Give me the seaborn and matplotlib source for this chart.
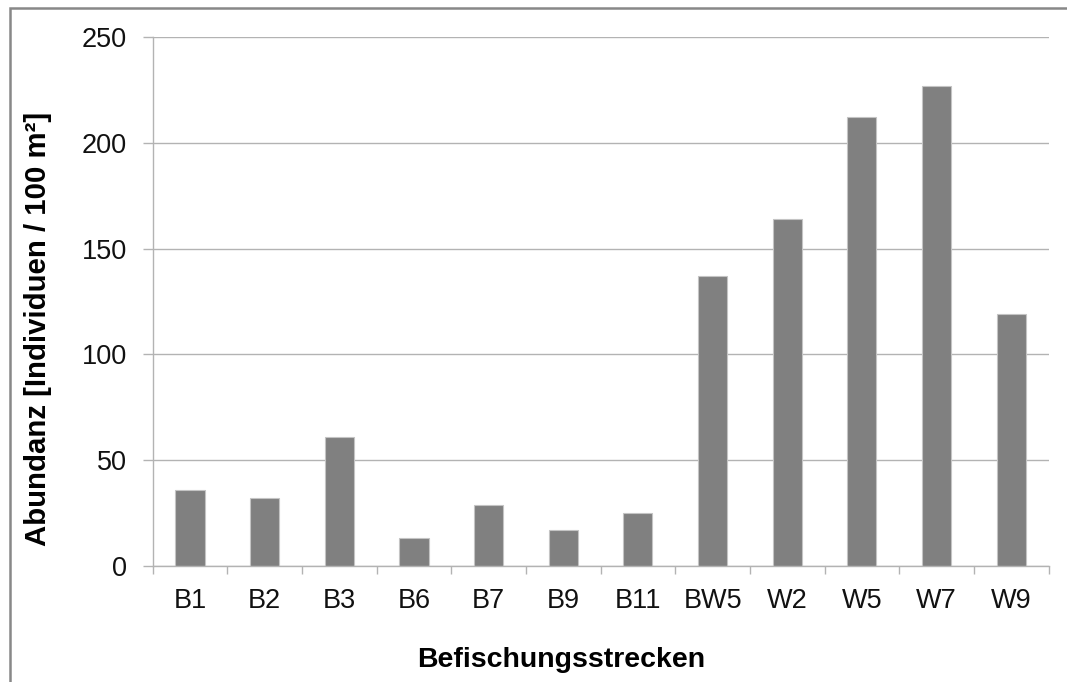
import matplotlib
matplotlib.use("Agg")
import matplotlib.pyplot as plt
from matplotlib.patches import Rectangle
from matplotlib.ticker import FixedLocator
import seaborn as sns
import pandas as pd

# Abundance per sampling stretch (individuals per 100 m²)
stretches = ["B1", "B2", "B3", "B6", "B7", "B9", "B11", "BW5", "W2", "W5", "W7", "W9"]
abundance = [36, 32, 61, 13, 29, 17, 25, 137, 164, 212, 227, 119]
y_ticks = [0, 50, 100, 150, 200, 250]

x_title = "Befischungsstrecken"
y_title = "Abundanz [Individuen / 100 m²]"

df = pd.DataFrame({"Strecke": stretches, "Abundanz": abundance})

sns.set_theme(style="white")
plt.rcParams["font.family"] = ["Liberation Sans", "DejaVu Sans"]

W, H = 1067, 682
fig = plt.figure(figsize=(W / 100, H / 100), dpi=100)
fig.patch.set_facecolor("white")

left, right, top, bottom = 152.7, 1048.5, 37.0, 566.0
ax = fig.add_axes([left / W, 1 - bottom / H, (right - left) / W, (bottom - top) / H])

sns.barplot(data=df, x="Strecke", y="Abundanz", color="#808080", saturation=1,
            width=0.39, edgecolor="#c4c4c4", linewidth=0.8, ax=ax, zorder=3)

grid_c = "#b3b3b3"
ax.set_xlim(-0.5, len(stretches) - 0.5)
ax.set_ylim(0, 250)
ax.set_yticks(y_ticks)
ax.yaxis.grid(True, color=grid_c, linewidth=1.0)
ax.xaxis.grid(False)
ax.set_axisbelow(True)

for side in ["top", "right"]:
    ax.spines[side].set_visible(False)
for side in ["left", "bottom"]:
    ax.spines[side].set_color(grid_c)
    ax.spines[side].set_linewidth(1.0)
    ax.spines[side].set_zorder(4)

# category boundaries carry the tick marks on the x axis
ax.xaxis.set_minor_locator(FixedLocator([i - 0.5 for i in range(len(stretches) + 1)]))
ax.tick_params(axis="x", which="minor", bottom=True, length=5.5, width=1.0, color=grid_c)
ax.tick_params(axis="x", which="major", bottom=True, length=0, pad=15.5,
               labelsize=19.5, labelcolor="#111111")
ax.tick_params(axis="y", which="major", left=True, length=7, width=1.0, color=grid_c,
               pad=11.5, labelsize=19.5, labelcolor="#111111")

ax.set_xlabel(x_title, fontsize=20.5, fontweight="bold", color="#000000")
ax.set_ylabel(y_title, fontsize=21.2, fontweight="bold", color="#000000")
ax.xaxis.label.set_va("baseline")
ax.xaxis.set_label_coords((561 - left) / (right - left), (bottom - 667) / (bottom - top))
ax.yaxis.label.set_va("center")
ax.yaxis.set_label_coords((38.5 - left) / (right - left), (bottom - 328.5) / (bottom - top))

# chart frame, running off the right and bottom edges
fig.patches.append(Rectangle((9.5 / W, -0.2), 1.2, 1 - 8 / H + 0.2,
                             transform=fig.transFigure, fill=False,
                             edgecolor="#888888", linewidth=1.8))

fig.savefig("out.png", dpi=100)
